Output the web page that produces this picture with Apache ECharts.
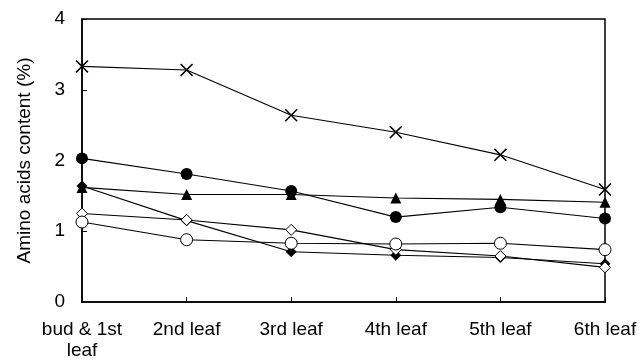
<!DOCTYPE html>
<html><head><meta charset="utf-8">
<script src="https://cdn.jsdelivr.net/npm/echarts@6/dist/echarts.min.js"></script>
<style>html,body{margin:0;padding:0;background:#fff}#c{width:641px;height:362px}</style>
</head><body><div id="c"></div>
<script>
const categories = ['bud & 1st\nleaf', '2nd leaf', '3rd leaf', '4th leaf', '5th leaf', '6th leaf'];
const yTicks = [0, 1, 2, 3, 4];
const crossSeries = [3.33, 3.28, 2.64, 2.40, 2.08, 1.59];
const filledCircle = [2.03, 1.81, 1.57, 1.20, 1.34, 1.18];
const filledTriangle = [1.62, 1.52, 1.52, 1.47, 1.45, 1.41];
const filledDiamond = [1.64, 1.15, 0.71, 0.66, 0.63, 0.54];
const openDiamond = [1.25, 1.16, 1.02, 0.74, 0.65, 0.49];
const openCircle = [1.13, 0.88, 0.83, 0.82, 0.83, 0.74];

const X_PATH = 'path://M0,1L1,0L6,5L11,0L12,1L7,6L12,11L11,12L6,7L1,12L0,11L5,6Z';
const font = 'Liberation Sans, Arial, sans-serif';

function mk(name, data, symbol, size, filled) {
  return {
    name, type: 'line', data, symbol, symbolSize: size, showSymbol: true,
    lineStyle: { color: '#000', width: 1.1 },
    itemStyle: filled ? { color: '#000', borderWidth: 0 } : { color: '#fff', borderColor: '#000', borderWidth: 1 },
    emphasis: { disabled: true }, animation: false
  };
}

const chart = echarts.init(document.getElementById('c'));
chart.setOption({
  animation: false,
  grid: { left: 82, right: 36, top: 19, bottom: 60, show: true, borderColor: '#000', borderWidth: 1.5 },
  xAxis: {
    type: 'category', data: categories, boundaryGap: false,
    axisLine: { lineStyle: { color: '#000', width: 1.5 } },
    axisTick: { inside: true, length: 5, lineStyle: { color: '#000' } },
    axisLabel: { color: '#000', fontSize: 19, fontFamily: font, margin: 17, lineHeight: 21, interval: 0 },
    splitLine: { show: false }
  },
  yAxis: {
    type: 'value', min: yTicks[0], max: yTicks[yTicks.length - 1], interval: 1,
    name: 'Amino acids content (%)', nameLocation: 'middle', nameGap: 48,
    nameTextStyle: { color: '#000', fontSize: 19, fontFamily: font },
    axisLine: { show: true, lineStyle: { color: '#000', width: 1.5 } },
    axisTick: { show: true, inside: true, length: 5, lineStyle: { color: '#000' } },
    axisLabel: { color: '#000', fontSize: 19, fontFamily: font, margin: 17 },
    splitLine: { show: false }
  },
  series: [
    mk('cross', crossSeries, X_PATH, 13, true),
    mk('filledCircle', filledCircle, 'circle', 12, true),
    mk('filledTriangle', filledTriangle, 'triangle', 11, true),
    mk('filledDiamond', filledDiamond, 'diamond', 11, true),
    mk('openDiamond', openDiamond, 'diamond', 11, false),
    mk('openCircle', openCircle, 'circle', 12, false)
  ]
});
</script></body></html>
